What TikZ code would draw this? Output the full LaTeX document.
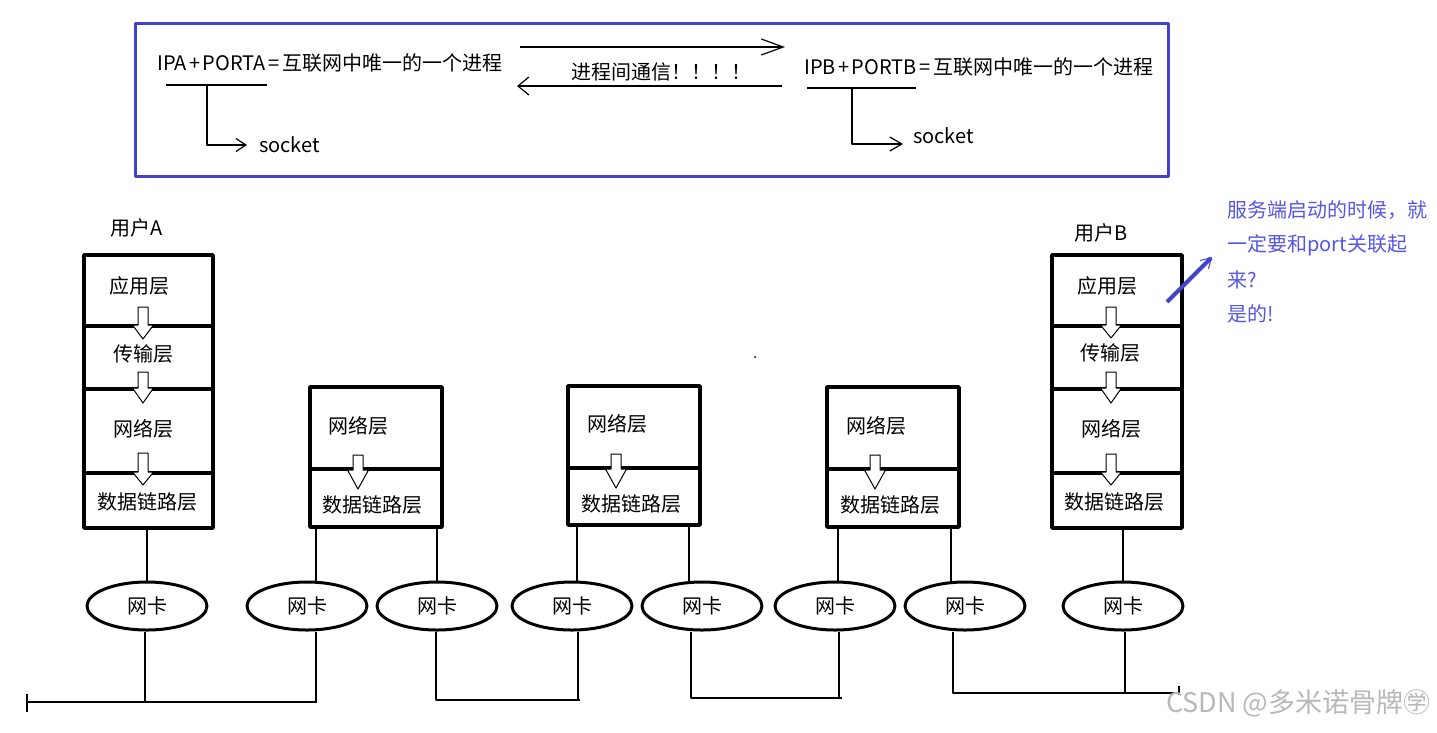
\documentclass[tikz,border=0pt]{standalone}
\usepackage{fontspec}
\setmainfont{Noto Sans CJK SC}
\usetikzlibrary{arrows.meta,shapes.geometric}
\definecolor{boxblue}{RGB}{66,66,204}
\definecolor{noteblue}{RGB}{86,86,228}

\begin{document}
\begin{tikzpicture}[x=1pt, y=-1pt, line join=round,
		txt/.style={inner sep=0pt, font=\fontsize{20}{24}\selectfont},
		layer/.style={draw, line width=3.5pt, inner sep=0pt},
		nic/.style={ellipse, draw, line width=3pt, minimum width=120, minimum height=48, inner sep=0pt, font=\fontsize{20}{24}\selectfont},
		wire/.style={line width=1.2pt},
		hollow/.style={draw, fill=white, line width=1pt}]
	\useasboundingbox (0,0) rectangle (1437,732);

	% socket box
	\draw[boxblue, line width=3pt] (135,23) rectangle (1168,176);
	\node[txt, anchor=west] (ipa) at (157,63) {IPA\kern2.5pt+\kern2.5pt PORTA\kern2.5pt=\kern2.5pt 互联网中唯一的一个进程};
	\coordinate (ipaL) at (166,85);
	\coordinate (ipaR) at (267,85);
	\coordinate (ipaD) at (207,85);
	\draw[wire] (ipaL) -- (ipaR);
	\node[txt, anchor=west] (sockA) at (259,145) {socket};
	\draw[wire, -{Straight Barb[length=10pt,width=13pt]}] (ipaD) |- ([xshift=-12pt]sockA.west);

	\coordinate (toB1) at (520,47);
	\coordinate (toB2) at (785,47);
	\draw[wire, -{Straight Barb[length=22pt,width=16pt]}] (toB1) -- (toB2);
	\node[txt] (ipc) at (661,72) {进程间通信！！！！};
	\coordinate (toA1) at (782,86);
	\coordinate (toA2) at (517,86);
	\draw[wire, -{Straight Barb[length=11pt,width=18pt]}] (toA1) -- (toA2);

	\node[txt, anchor=west] (ipb) at (804,67) {IPB\kern2.5pt+\kern2.5pt PORTB\kern2.5pt=\kern2.5pt 互联网中唯一的一个进程};
	\coordinate (ipbL) at (807,88);
	\coordinate (ipbR) at (916,88);
	\coordinate (ipbD) at (852,88);
	\coordinate (ipbE) at (903,144);
	\draw[wire] (ipbL) -- (ipbR);
	\node[txt, anchor=west] (sockB) at (913,136) {socket};
	\draw[wire, -{Straight Barb[length=12pt,width=14pt]}] (ipbD) |- (ipbE);

	% user A
	\node[txt] (userA) at (137,228) {用户A};
	\node[layer, minimum width=129, minimum height=71] (aApp) at (148.5,290.5) {};
	\node[layer, minimum width=129, minimum height=63] (aTrans) at (148.5,357.5) {};
	\node[layer, minimum width=129, minimum height=84] (aNet) at (148.5,431) {};
	\node[layer, minimum width=129, minimum height=55] (aLink) at (148.5,500.5) {};
	\node[txt] (aAppT) at (139,286) {应用层};
	\node[txt] (aTransT) at (143,354) {传输层};
	\node[txt] (aNetT) at (143,429) {网络层};
	\node[txt] (aLinkT) at (147,502) {数据链路层};

	% user B
	\node[txt] (userB) at (1101,233) {用户B};
	\node[layer, minimum width=130, minimum height=71] (bApp) at (1117,290.5) {};
	\node[layer, minimum width=130, minimum height=63] (bTrans) at (1117,357.5) {};
	\node[layer, minimum width=130, minimum height=84] (bNet) at (1117,431) {};
	\node[layer, minimum width=130, minimum height=55] (bLink) at (1117,500.5) {};
	\node[txt] (bAppT) at (1107,286) {应用层};
	\node[txt] (bTransT) at (1110,353) {传输层};
	\node[txt] (bNetT) at (1111,429) {网络层};
	\node[txt] (bLinkT) at (1114,502) {数据链路层};

	% routers
	\node[layer, minimum width=132, minimum height=82] (r1Net) at (376,428) {};
	\node[layer, minimum width=132, minimum height=58] (r1Link) at (376,498) {};
	\node[txt] (r1NetT) at (358,426) {网络层};
	\node[txt] (r1LinkT) at (372,505) {数据链路层};
	\node[layer, minimum width=132, minimum height=82] (r2Net) at (634,427) {};
	\node[layer, minimum width=132, minimum height=57] (r2Link) at (634,496.5) {};
	\node[txt] (r2NetT) at (617,424) {网络层};
	\node[txt] (r2LinkT) at (631,504) {数据链路层};
	\node[layer, minimum width=132, minimum height=82] (r3Net) at (893,428) {};
	\node[layer, minimum width=132, minimum height=58] (r3Link) at (893,498) {};
	\node[txt] (r3NetT) at (876,426) {网络层};
	\node[txt] (r3LinkT) at (890,505) {数据链路层};

	% hollow arrows between layers
	\foreach \x/\ya/\yb/\yc in {143/307/325/339, 143/372/388/403, 143/453/472/485,
			1111/307/325/338, 1111/372/388/403, 1111/454/472/485,
			358/455/470/489, 616/454/469/488, 875/455/470/489}
		\draw[hollow] ({\x-5},\ya) -- ({\x+5},\ya) -- ({\x+5},\yb) -- ({\x+10.5},\yb)
			-- (\x,\yc) -- ({\x-10.5},\yb) -- ({\x-5},\yb) -- cycle;

	% network cards
	\foreach \n/\x in {1/147, 2/307, 3/437, 4/572, 5/702, 6/835, 7/965, 8/1123}
		\node[nic] (nic\n) at (\x,606) {网卡};

	\draw[wire] (nic1.north) -- (nic1.north |- aLink.south);
	\draw[wire] ([xshift=9pt]nic2.north) -- ([xshift=9pt]nic2.north |- r1Link.south);
	\draw[wire] (nic3.north) -- (nic3.north |- r1Link.south);
	\draw[wire] ([xshift=5pt]nic4.north) -- ([xshift=5pt]nic4.north |- r2Link.south);
	\draw[wire] ([xshift=-13pt]nic5.north) -- ([xshift=-13pt]nic5.north |- r2Link.south);
	\draw[wire] ([xshift=3pt]nic6.north) -- ([xshift=3pt]nic6.north |- r3Link.south);
	\draw[wire] ([xshift=-14pt]nic7.north) -- ([xshift=-14pt]nic7.north |- r3Link.south);
	\draw[wire] (nic8.north) -- (nic8.north |- bLink.south);

	% cables
	\coordinate (busA) at (27,702);
	\coordinate (busB) at (317,702);
	\draw[wire] (busA) -- (busB);
	\draw[wire] ([yshift=8pt]busA) -- ([yshift=-10pt]busA);
	\draw[wire] ([xshift=-2pt]nic1.south) -- ([xshift=-2pt]nic1.south |- busA);
	\draw[wire] ([xshift=9pt]nic2.south) -- ([xshift=9pt]nic2.south |- busA);
	\coordinate (busC) at (580,700);
	\draw[wire] ([xshift=-1pt]nic3.south) |- (busC);
	\draw[wire] ([xshift=6pt]nic4.south) -- ([xshift=6pt]nic4.south |- busC);
	\coordinate (busD) at (842,698);
	\draw[wire] ([xshift=-11pt]nic5.south) |- (busD);
	\draw[wire] ([xshift=4pt]nic6.south) -- ([xshift=4pt]nic6.south |- busD);
	\coordinate (busE) at (1179,693);
	\draw[wire] ([xshift=-12pt]nic7.south) |- (busE);
	\draw[wire] ([xshift=2pt]nic8.south) -- ([xshift=2pt]nic8.south |- busE);
	\draw[wire] ([yshift=7pt]busE) -- ([yshift=-2pt]busE);

	% note
	\coordinate (noteS) at (1167,302);
	\coordinate (noteE) at (1212,257);
	\draw[boxblue, line width=4pt, -{Straight Barb[length=10pt,width=12pt,line width=1pt]}] (noteS) -- (noteE);
	\node[txt, anchor=west, text=noteblue] (note1) at (1227,210) {服务端启动的时候，就};
	\node[txt, anchor=west, text=noteblue] (note2) at (1227,245) {一定要和port关联起};
	\node[txt, anchor=west, text=noteblue] (note3) at (1227,280) {来?};
	\node[txt, anchor=west, text=noteblue] (note4) at (1227,314) {是的!};

	\fill (755,357) circle (1);
	\node[txt, anchor=west, text=black!28, font=\fontsize{27}{30}\selectfont] (mark) at (1166,703) {CSDN @多米诺骨牌㊫};
\end{tikzpicture}
\end{document}
